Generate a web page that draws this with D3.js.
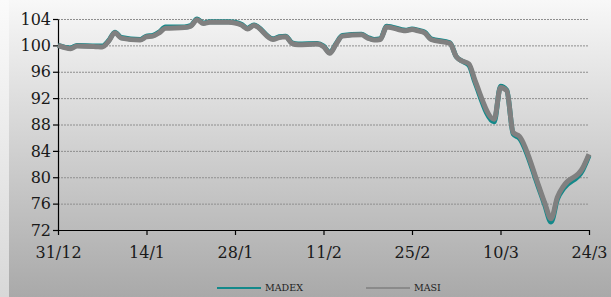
<!DOCTYPE html>
<html>
<head>
<meta charset="utf-8">
<script src="https://cdn.jsdelivr.net/npm/d3@7"></script>
<style>
  body { margin: 0; }
  svg { display: block; }
</style>
</head>
<body>
<svg id="chart"></svg>
<script>
// trading days, 31/12/2019 to 24/3/2020
var dates = ["2019-12-31",
  "2020-01-02","2020-01-03","2020-01-06","2020-01-07","2020-01-08","2020-01-09","2020-01-10",
  "2020-01-13","2020-01-14","2020-01-15","2020-01-16","2020-01-17","2020-01-20","2020-01-21",
  "2020-01-22","2020-01-23","2020-01-24","2020-01-27","2020-01-28","2020-01-29","2020-01-30","2020-01-31",
  "2020-02-03","2020-02-04","2020-02-05","2020-02-06","2020-02-07","2020-02-10","2020-02-11",
  "2020-02-12","2020-02-13","2020-02-14","2020-02-17","2020-02-18","2020-02-19","2020-02-20",
  "2020-02-21","2020-02-24","2020-02-25","2020-02-26","2020-02-27","2020-02-28",
  "2020-03-02","2020-03-03","2020-03-04","2020-03-05","2020-03-06","2020-03-09","2020-03-10",
  "2020-03-11","2020-03-12","2020-03-13","2020-03-16","2020-03-17","2020-03-18","2020-03-19",
  "2020-03-20","2020-03-23","2020-03-24"];

var masi = [100.0,
  99.5, 99.9, 99.8, 99.75, 100.6, 101.9, 101.1,
  100.8, 101.3, 101.4, 101.9, 102.6, 102.7, 102.9,
  103.9, 103.3, 103.5, 103.5, 103.4, 103.1, 102.5, 103.0,
  100.9, 101.2, 101.3, 100.3, 100.1, 100.2, 99.8,
  98.8, 100.2, 101.4, 101.6, 101.1, 100.8, 100.9,
  102.8, 102.2, 102.4, 102.2, 101.9, 100.9,
  100.3, 98.3, 97.6, 97.2, 94.6, 88.8, 93.6,
  93.1, 86.8, 86.2, 78.8, 76.1, 73.7, 77.0,
  78.7, 81.4, 83.5];

var madex = [100.0,
  99.6, 100.0, 99.9, 99.9, 100.7, 102.0, 101.2,
  100.9, 101.4, 101.5, 102.0, 102.8, 102.8, 103.0,
  104.0, 103.4, 103.6, 103.6, 103.5, 103.2, 102.6, 103.1,
  101.0, 101.3, 101.4, 100.4, 100.2, 100.3, 99.9,
  98.9, 100.3, 101.5, 101.7, 101.2, 100.9, 101.0,
  102.9, 102.3, 102.5, 102.3, 102.0, 101.0,
  100.4, 98.3, 97.6, 97.0, 94.3, 88.4, 93.8,
  93.2, 86.6, 85.9, 78.5, 75.8, 73.2, 76.7,
  78.3, 81.1, 83.3];

var yTicks = [72, 76, 80, 84, 88, 92, 96, 100, 104];
var xTicks = ["2019-12-31","2020-01-14","2020-01-28","2020-02-11","2020-02-25","2020-03-10","2020-03-24"];

var width = 611;
var height = 297;
var margin = {top: 19, right: 22, bottom: 67, left: 58};

var parse = d3.timeParse("%Y-%m-%d");

var svg = d3.select("#chart")
  .attr("width", width)
  .attr("height", height);

var defs = svg.append("defs");
var grad = defs.append("linearGradient")
  .attr("id", "bg")
  .attr("x1", 0).attr("y1", 0).attr("x2", 0).attr("y2", 1);
grad.append("stop").attr("offset", "0%").attr("stop-color", "#f8f8f8");
grad.append("stop").attr("offset", "100%").attr("stop-color", "#a9a9a9");

var grad2 = defs.append("linearGradient")
  .attr("id", "edge")
  .attr("x1", 0).attr("y1", 0).attr("x2", 0).attr("y2", 1);
grad2.append("stop").attr("offset", "0%").attr("stop-color", "#fbfbfb");
grad2.append("stop").attr("offset", "100%").attr("stop-color", "#d8d8d8");

svg.append("rect")
  .attr("width", width).attr("height", height)
  .attr("fill", "url(#bg)");
svg.append("rect")
  .attr("width", 9).attr("height", height)
  .attr("fill", "url(#edge)");

var x = d3.scaleTime()
  .domain([parse(xTicks[0]), parse(xTicks[xTicks.length - 1])])
  .range([margin.left, width - margin.right]);

var y = d3.scaleLinear()
  .domain([72, 104])
  .range([height - margin.bottom, margin.top]);

// gridlines
svg.append("g")
  .selectAll("line")
  .data(yTicks.slice(1))
  .enter()
    .append("line")
    .attr("x1", margin.left)
    .attr("x2", width - margin.right)
    .attr("y1", d => y(d) + 0.5)
    .attr("y2", d => y(d) + 0.5)
    .attr("stroke", "#8e8e8e")
    .attr("stroke-width", 1)
    .attr("stroke-dasharray", "2,1");

var xAxis = d3.axisBottom(x)
  .tickValues(xTicks.map(parse))
  .tickFormat(d3.timeFormat("%-d/%-m"))
  .tickSize(5)
  .tickSizeOuter(0)
  .tickPadding(12);

var yAxis = d3.axisLeft(y)
  .tickValues(yTicks)
  .tickSize(5)
  .tickSizeOuter(0)
  .tickPadding(2);

var gx = svg.append("g")
  .attr("transform", "translate(0," + (height - margin.bottom) + ")")
  .call(xAxis);

var gy = svg.append("g")
  .attr("transform", "translate(" + margin.left + ",0)")
  .call(yAxis);

[gx, gy].forEach(function(g) {
  g.selectAll("path, line").attr("stroke", "#000").attr("stroke-width", 1.2);
  g.selectAll("text")
    .attr("fill", "#1a1a1a")
    .style("font-family", "'DejaVu Serif', serif")
    .style("font-size", "16px");
});

var line = d3.line()
  .x((d, i) => x(parse(dates[i])))
  .y(d => y(d))
  .curve(d3.curveMonotoneX);

svg.append("path")
  .datum(madex)
  .attr("d", line)
  .attr("fill", "none")
  .attr("stroke", "#13898a")
  .attr("stroke-width", 5)
  .attr("stroke-linejoin", "round");

svg.append("path")
  .datum(masi)
  .attr("d", line)
  .attr("fill", "none")
  .attr("stroke", "#808080")
  .attr("stroke-width", 5)
  .attr("stroke-linejoin", "round");

// legend
var series = ["MADEX", "MASI"];
var colors = ["#13898a", "#8a8a8a"];
var legendX = [217, 366];

var legend = svg.append("g")
  .selectAll("g")
  .data(series)
  .enter()
    .append("g")
    .attr("transform", (d, i) => "translate(" + legendX[i] + ",288)");

legend.append("line")
  .attr("x1", 0).attr("x2", 44)
  .attr("stroke", (d, i) => colors[i])
  .attr("stroke-width", 2);

legend.append("text")
  .attr("x", 48)
  .attr("dy", "0.35em")
  .attr("fill", "#222")
  .style("font-family", "'DejaVu Serif', serif")
  .style("font-size", "9.5px")
  .text(d => d);
</script>
</body>
</html>
